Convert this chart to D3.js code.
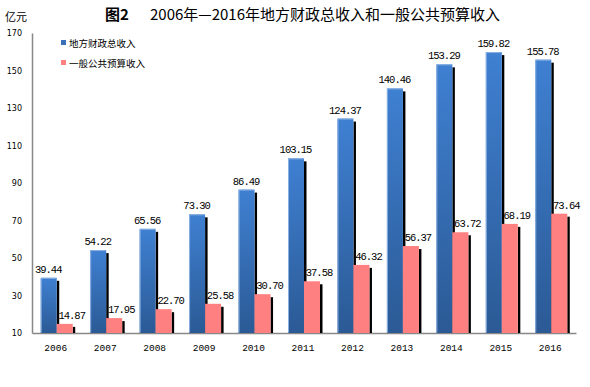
<!DOCTYPE html>
<html><head><meta charset="utf-8">
<script src="https://cdn.jsdelivr.net/npm/d3@7"></script>
<style>body{margin:0;background:#fff}svg{display:block}</style>
</head><body><svg id="c" width="590" height="387"></svg>
<script>
const years = ["2006","2007","2008","2009","2010","2011","2012","2013","2014","2015","2016"];
const totalRevenue = [39.44,54.22,65.56,73.30,86.49,103.15,124.37,140.46,153.29,159.82,155.78];
const budgetRevenue = [14.87,17.95,22.70,25.58,30.70,37.58,46.32,56.37,63.72,68.19,73.64];
const yTicks = [10,30,50,70,90,110,130,150,170];
const seriesNames = ["地方财政总收入","一般公共预算收入"];
const titleLead = "图2";
const titleText = "2006年—2016年地方财政总收入和一般公共预算收入";
const unitText = "亿元";

const svg = d3.select("#c");
const x = d3.scaleBand().domain(years).range([32,576]);
const y = d3.scaleLinear().domain([10,170]).range([333,33]);
const bw = 16;

const defs = svg.append("defs");
const g1 = defs.append("linearGradient").attr("id","gb").attr("x1",0).attr("y1",0).attr("x2",0).attr("y2",1);
g1.append("stop").attr("offset","0%").attr("stop-color","#3f80d2");
g1.append("stop").attr("offset","100%").attr("stop-color","#2b5a95");

// title
svg.append("text").attr("x",105).attr("y",20).attr("font-family","Noto Sans CJK SC").attr("font-size",15)
  .attr("font-weight","bold").text(titleLead);
svg.append("text").attr("x",150).attr("y",20).attr("font-family","Noto Sans CJK SC").attr("font-size",15)
  .attr("fill","#000").text(titleText);
svg.append("text").attr("x",5).attr("y",21).attr("font-family","Noto Sans CJK SC").attr("font-size",11).text(unitText);

// axes
const yAxis = d3.axisLeft(y).tickValues(yTicks).tickSize(0).tickPadding(10);
const ya = svg.append("g").attr("transform","translate(32,0)").call(yAxis);
ya.select(".domain").attr("stroke","#888").attr("stroke-width",1.5);
ya.selectAll("text").attr("font-family","DejaVu Sans").attr("font-size",8).attr("fill","#000");

const xAxis = d3.axisBottom(x).tickSize(0).tickPadding(11);
const xa = svg.append("g").attr("transform","translate(0,333)").call(xAxis);
xa.select(".domain").attr("stroke","#888").attr("stroke-width",1.5);
xa.selectAll("text").attr("font-family","Liberation Mono").attr("font-size",9.5).attr("fill","#000").attr("x",-1);

const data = years.map((yr,i)=>({yr, a: totalRevenue[i], b: budgetRevenue[i]}));
const grp = svg.append("g");
// shadows
grp.selectAll(".sa").data(data).enter().append("rect")
  .attr("x",d=>x(d.yr)+x.bandwidth()/2).attr("y",d=>y(d.a)+3).attr("width",2.5).attr("height",d=>333-y(d.a)-3).attr("fill","#000");
// blue bars
grp.selectAll(".ba").data(data).enter().append("rect")
  .attr("x",d=>x(d.yr)+x.bandwidth()/2-bw).attr("y",d=>y(d.a)).attr("width",bw).attr("height",d=>333-y(d.a)).attr("fill","url(#gb)");
grp.selectAll(".bl").data(data).enter().append("path")
  .attr("d",d=>{const x0=x(d.yr)+x.bandwidth()/2-bw+0.5, y0=y(d.a)+0.5; return `M${x0},332.5V${y0}H${x0+bw-1}`;})
  .attr("fill","none").attr("stroke","#8ab0e2").attr("stroke-width",1);
// pink shadows
grp.selectAll(".sb").data(data).enter().append("rect")
  .attr("x",d=>x(d.yr)+x.bandwidth()/2+bw).attr("y",d=>y(d.b)+3).attr("width",2.5).attr("height",d=>333-y(d.b)-3).attr("fill","#000");
grp.selectAll(".bb").data(data).enter().append("rect")
  .attr("x",d=>x(d.yr)+x.bandwidth()/2).attr("y",d=>y(d.b)).attr("width",bw).attr("height",d=>333-y(d.b)).attr("fill","#ff8080");

// labels
const lf = {fam:"Liberation Mono", size:10.5};
grp.selectAll(".la").data(data).enter().append("text")
  .attr("x",d=>x(d.yr)+x.bandwidth()/2-bw/2-0.5).attr("y",d=>y(d.a)-5).attr("text-anchor","middle")
  .attr("font-family",lf.fam).attr("font-size",lf.size).attr("letter-spacing",-1).text(d=>d.a.toFixed(2));
grp.selectAll(".lb").data(data).enter().append("text")
  .attr("x",d=>x(d.yr)+x.bandwidth()/2+bw/2+7).attr("y",d=>y(d.b)-5).attr("text-anchor","middle")
  .attr("font-family",lf.fam).attr("font-size",lf.size).attr("letter-spacing",-1).text(d=>d.b.toFixed(2));

// legend
const colors = ["#3a70b8","#ff8080"];
const leg = svg.append("g");
seriesNames.forEach((n,i)=>{
  leg.append("rect").attr("x",61).attr("y",40+i*20).attr("width",5).attr("height",5).attr("fill",colors[i]);
  leg.append("text").attr("x",69).attr("y",46.5+i*20).attr("font-family","Noto Sans CJK SC").attr("font-size",9.5).text(n);
});
</script></body></html>
